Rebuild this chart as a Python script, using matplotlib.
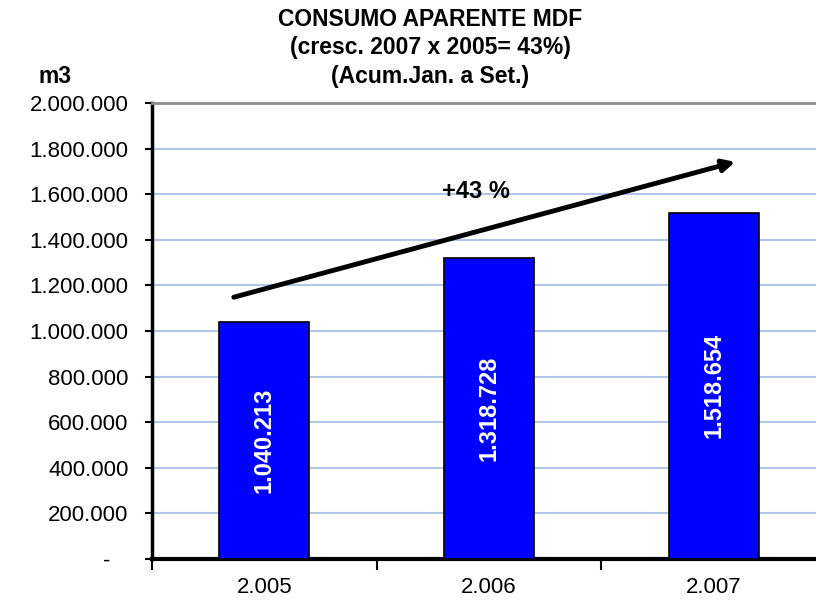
"""
Consumo aparente MDF - bar chart (Acum. Jan. a Set.)
"""

import numpy as np
import matplotlib.pyplot as plt

            #### DATA ####
years = ['2.005', '2.006', '2.007']
consumo = [1040213, 1318728, 1518654]
yticks = np.arange(0, 2000001, 200000)

def fmt_br(v):
    """ thousands with dots, zero as a dash (excel accounting style) """
    if v == 0:
        return '-   '
    return '{:,.0f}'.format(v).replace(',', '.')

plt.rcParams['font.family'] = ['Liberation Sans', 'DejaVu Sans']

            #### FIGURE ####
fig = plt.figure(figsize=(8.16, 6.05), dpi=100)
ax = fig.add_axes([0.1863, 0.076, 0.826, 0.7538])

x = np.arange(len(years))
ax.bar(x, consumo, width=0.4, color='#0000ff', edgecolor='black', linewidth=1.2, zorder=3)

for xi, v in zip(x, consumo):                       # value labels inside bars
    ax.text(xi, v / 2, fmt_br(v), rotation=90, ha='center', va='center',
            color='white', fontsize=17, fontweight='bold', zorder=4)

ax.set_xlim(-0.5, 2.5)
ax.set_ylim(0, 2000000)
ax.set_yticks(yticks)
ax.set_yticklabels([fmt_br(v) for v in yticks], fontsize=16)
ax.yaxis.grid(True, color='#b4c7e7', linewidth=1.5, zorder=0)
ax.tick_params(axis='y', length=5, width=1.5, pad=12)

ax.set_xticks(x)
ax.set_xticklabels(years, fontsize=16)
ax.set_xticks(np.arange(-0.5, 2.6, 1), minor=True)
ax.tick_params(axis='x', which='major', length=0, pad=13)
ax.tick_params(axis='x', which='minor', length=8, width=1.5)

ax.spines['left'].set_linewidth(2.5)
ax.spines['bottom'].set_linewidth(3)
ax.spines['top'].set_color('#8c8c8c')
ax.spines['top'].set_linewidth(2)
ax.spines['right'].set_visible(False)

            #### TREND ARROW ####
ax.annotate('', xy=(2.108, 1745000), xytext=(-0.148, 1145000),
            arrowprops=dict(arrowstyle='-|>', color='black', lw=3.5,
                            mutation_scale=18), zorder=5)
ax.text(0.942, 1610000, '+43 %', ha='center', va='center',
        fontsize=17, fontweight='bold')

            #### TITLES ####
title = ['CONSUMO APARENTE MDF', '(cresc. 2007 x 2005= 43%)', '(Acum.Jan. a Set.)']
for yy, line in zip([0.967, 0.922, 0.874], title):
    fig.text(0.527, yy, line, ha='center', va='center',
             fontsize=16.5, fontweight='bold')
fig.text(0.068, 0.873, 'm3', ha='center', va='center',
         fontsize=16.5, fontweight='bold')

fig.savefig('out.png', dpi=100)
plt.close()
